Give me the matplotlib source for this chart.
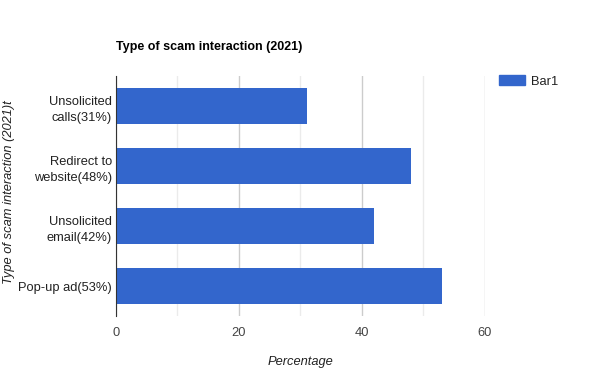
import matplotlib.pyplot as plt
from matplotlib.patches import Patch

plt.rcParams['font.family'] = ['Liberation Sans', 'DejaVu Sans']

categorias = ['Unsolicited\ncalls(31%)', 'Redirect to\nwebsite(48%)', 'Unsolicited\nemail(42%)', 'Pop-up ad(53%)']
valores = [31, 48, 42, 53]

fig = plt.figure(figsize=(6, 3.9), dpi=100)
ax = fig.add_axes([0.1933, 0.1897, 0.615, 0.6154])

pos = list(range(len(categorias)))[::-1]
ax.barh(pos, valores, height=0.6, color='#3366cc', zorder=3)
ax.set_ylim(-0.5, len(categorias) - 0.5)
ax.set_xlim(0, 60)
ax.set_yticks(pos)
ax.set_yticklabels(categorias, fontsize=9.3, color='#222222')
for lbl in ax.get_yticklabels():
    lbl.set_multialignment('right')
    lbl.set_linespacing(1.45)
ax.set_xticks([0, 20, 40, 60])
ax.set_xticks([10, 30, 50], minor=True)
ax.tick_params(axis='x', which='both', length=0, labelsize=9.3, labelcolor='#444444', pad=8)
ax.tick_params(axis='y', length=0, pad=3)
ax.grid(axis='x', which='major', color='#cccccc', linewidth=1, zorder=0)
ax.grid(axis='x', which='minor', color='#ebebeb', linewidth=1, zorder=0)
ax.grid(axis='y', visible=False)
for s in ['top', 'right', 'bottom']:
    ax.spines[s].set_visible(False)
ax.spines['left'].set_color('#333333')
ax.spines['left'].set_zorder(4)

fig.text(116/600, 1 - 47/390, 'Type of scam interaction (2021)', fontsize=9, fontweight='bold', color='#000000', va='center', ha='left')
fig.text(300/600, 1 - 362/390, 'Percentage', fontsize=9.3, style='italic', color='#222222', ha='center', va='center')
fig.text(9/600, 1 - 192/390, 'Type of scam interaction (2021)t', fontsize=9.3, style='italic', color='#222222', rotation=90, ha='center', va='center')

leg = fig.legend(handles=[Patch(color='#3366cc', label='Bar1')], loc='upper left',
                 bbox_to_anchor=(494/600, 1 - 70/390), frameon=False, fontsize=9.3,
                 handlelength=2.0, handleheight=0.8, handletextpad=0.5, borderaxespad=0)
for t in leg.get_texts():
    t.set_color('#222222')

fig.savefig('out.png', dpi=100)
